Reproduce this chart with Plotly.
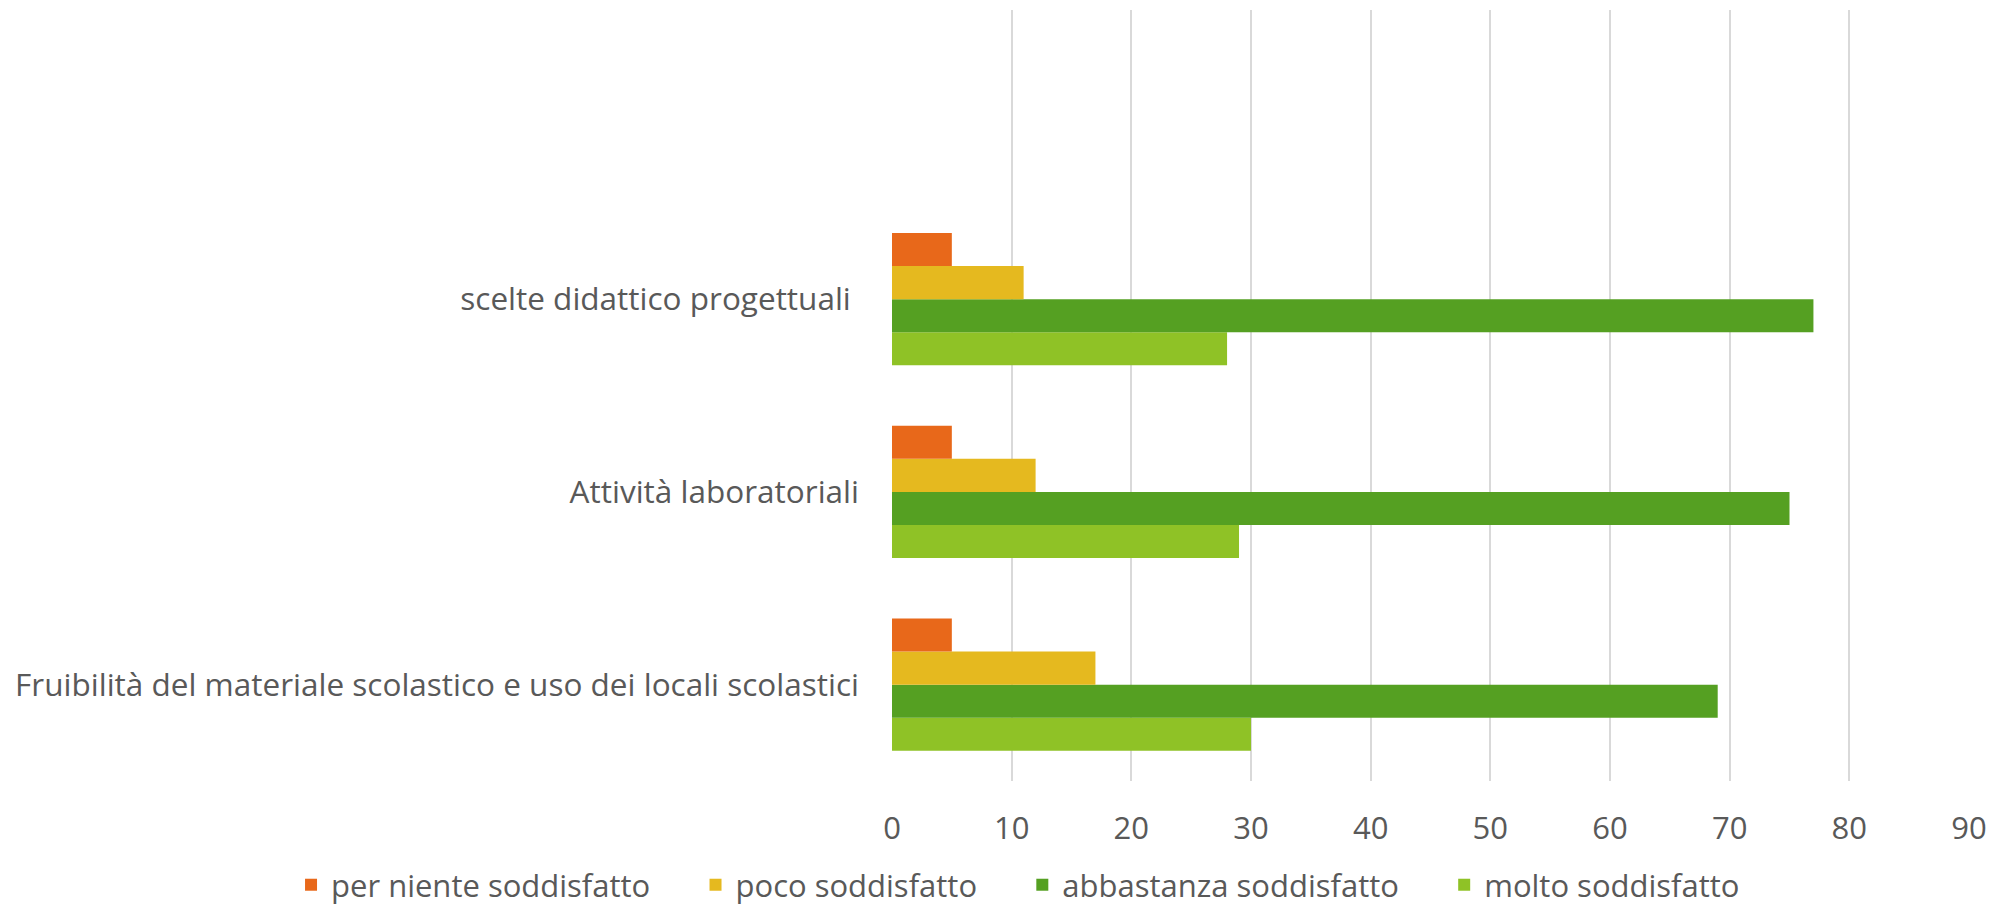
import plotly.graph_objects as go

categories = [
    "Fruibilità del materiale scolastico e uso dei locali scolastici",
    "Attività laboratoriali",
    "scelte didattico progettuali\u00a0",
]
series_names = ["per niente soddisfatto", "poco soddisfatto", "abbastanza soddisfatto", "molto soddisfatto"]
per_niente = [5, 5, 5]
poco = [17, 12, 11]
abbastanza = [69, 75, 77]
molto = [30, 29, 28]
x_ticks = [0, 10, 20, 30, 40, 50, 60, 70, 80, 90]

colors = ["#E8681A", "#E5B91F", "#55A022", "#8FC226"]
values = [per_niente, poco, abbastanza, molto]

FONT = "Open Sans, DejaVu Sans, sans-serif"
GREY = "#595959"
FS = 31
PAD = "\u00a0" * 5  # extra room between legend entries

fig = go.Figure()
# reverse order so the first series sits on top inside each group
for name, vals, col in reversed(list(zip(series_names, values, colors))):
    fig.add_trace(go.Bar(
        y=categories, x=vals, name=name + PAD, orientation="h",
        marker=dict(color=col, line=dict(width=0)),
    ))

# the page body has an 8px margin; figure is a bit taller than the window
# so the legend never pushes the plot area up
fig.update_layout(
    barmode="group",
    bargap=0.314,
    bargroupgap=0,
    width=1990,
    height=915,
    margin=dict(l=884, r=29, t=2, b=142),
    paper_bgcolor="white",
    plot_bgcolor="white",
    font=dict(family=FONT, size=FS, color=GREY),
    legend=dict(
        orientation="h", traceorder="reversed",
        x=-0.558, xanchor="left", y=-0.135, yanchor="middle",
        font=dict(size=FS, color=GREY),
        itemwidth=30,
    ),
    showlegend=True,
)
fig.update_xaxes(
    range=[0, 90], tickvals=x_ticks, showgrid=True, gridcolor="#D9D9D9", gridwidth=1.5,
    zeroline=False, showline=False, ticklabelstandoff=26, automargin=False,
    tickfont=dict(size=FS, color=GREY),
)
fig.update_yaxes(
    type="category", range=[-0.5, 3.5], showgrid=False, zeroline=False, showline=False,
    ticklabelstandoff=32, automargin=False, tickfont=dict(size=31.5, color=GREY),
)

fig.write_html("out.html")
